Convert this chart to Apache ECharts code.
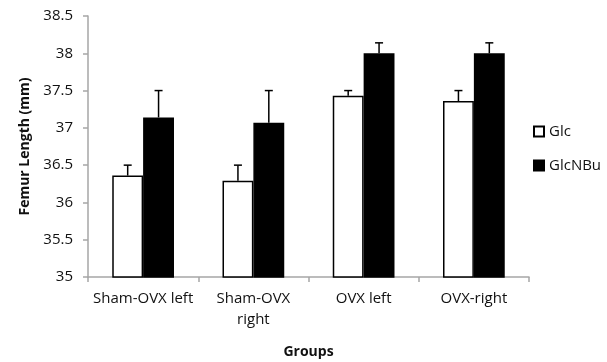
<!DOCTYPE html>
<html><head><meta charset="utf-8">
<script src="https://cdn.jsdelivr.net/npm/echarts@6/dist/echarts.min.js"></script>
<style>html,body{margin:0;padding:0;background:#fff}#c{width:607px;height:362px}</style>
</head><body><div id="c"></div>
<script>
const categories = ['Sham-OVX left', 'Sham-OVX\nright', 'OVX left', 'OVX-right'];
const glc = [36.36, 36.29, 37.43, 37.36];
const glcErr = [0.14, 0.21, 0.07, 0.14];
const glcnbu = [37.14, 37.07, 38.0, 38.0];
const glcnbuErr = [0.36, 0.43, 0.14, 0.14];
const yMin = 35, yMax = 38.5, yStep = 0.5;

const GAP = 0.44;
const FONT = '"Open Sans", "Liberation Sans", sans-serif';

function errSeries(name, vals, errs, side) {
  return {
    type: 'custom', name: name + ' err', z: 1,
    data: vals.map((v, i) => [i, v, v + errs[i]]),
    renderItem: function (params, api) {
      const band = api.size([1, 0])[0];
      const bw = band * (1 - GAP) / 2;
      const base = api.coord([api.value(0), api.value(1)]);
      const top = api.coord([api.value(0), api.value(2)]);
      const x = base[0] + side * bw / 2;
      const cap = 4;
      return {
        type: 'group', children: [
          { type: 'line', shape: { x1: x, y1: base[1], x2: x, y2: top[1] }, style: { stroke: '#000', lineWidth: 1.5 } },
          { type: 'line', shape: { x1: x - cap, y1: top[1], x2: x + cap, y2: top[1] }, style: { stroke: '#000', lineWidth: 1.5 } }
        ]
      };
    }
  };
}

const chart = echarts.init(document.getElementById('c'));
chart.setOption({
  animation: false,
  textStyle: { fontFamily: FONT },
  grid: { left: 88, right: 78, top: 16, bottom: 85, containLabel: false, outerBoundsMode: 'none' },
  legend: {
    orient: 'vertical', left: 528, top: 119, itemGap: 19,
    itemWidth: 10, itemHeight: 10, icon: 'rect',
    textStyle: { fontSize: 15, color: '#111', fontFamily: FONT },
    data: ['Glc', 'GlcNBu']
  },
  xAxis: {
    type: 'category', data: categories,
    name: 'Groups', nameLocation: 'middle', nameGap: 68,
    nameTextStyle: { fontWeight: 'bold', fontSize: 14, color: '#111', fontFamily: FONT },
    axisLine: { lineStyle: { color: '#a6a6a6', width: 1.5 } },
    axisTick: { show: true, length: 5, lineStyle: { color: '#a6a6a6', width: 1.5 } },
    axisLabel: { interval: 0, fontSize: 15, color: '#111', margin: 11, lineHeight: 21, fontFamily: FONT }
  },
  yAxis: {
    type: 'value', min: yMin, max: yMax, interval: yStep,
    name: 'Femur Length (mm)', nameLocation: 'middle', nameGap: 56,
    nameTextStyle: { fontWeight: 'bold', fontSize: 14, color: '#111', fontFamily: FONT },
    axisLine: { show: true, lineStyle: { color: '#a6a6a6', width: 1.5 } },
    axisTick: { show: true, length: 5, lineStyle: { color: '#a6a6a6', width: 1.5 } },
    splitLine: { show: false },
    axisLabel: { fontSize: 15, color: '#111', margin: 15, fontFamily: FONT }
  },
  series: [
    { name: 'Glc', type: 'bar', data: glc, barGap: '0%', barCategoryGap: (GAP * 100) + '%', z: 2,
      itemStyle: { color: '#fff', borderColor: '#000', borderWidth: 1.5 } },
    { name: 'GlcNBu', type: 'bar', data: glcnbu, barGap: '0%', barCategoryGap: (GAP * 100) + '%', z: 2,
      itemStyle: { color: '#000', borderColor: '#000', borderWidth: 1.5 } },
    errSeries('Glc', glc, glcErr, -1),
    errSeries('GlcNBu', glcnbu, glcnbuErr, 1)
  ]
});
</script></body></html>
